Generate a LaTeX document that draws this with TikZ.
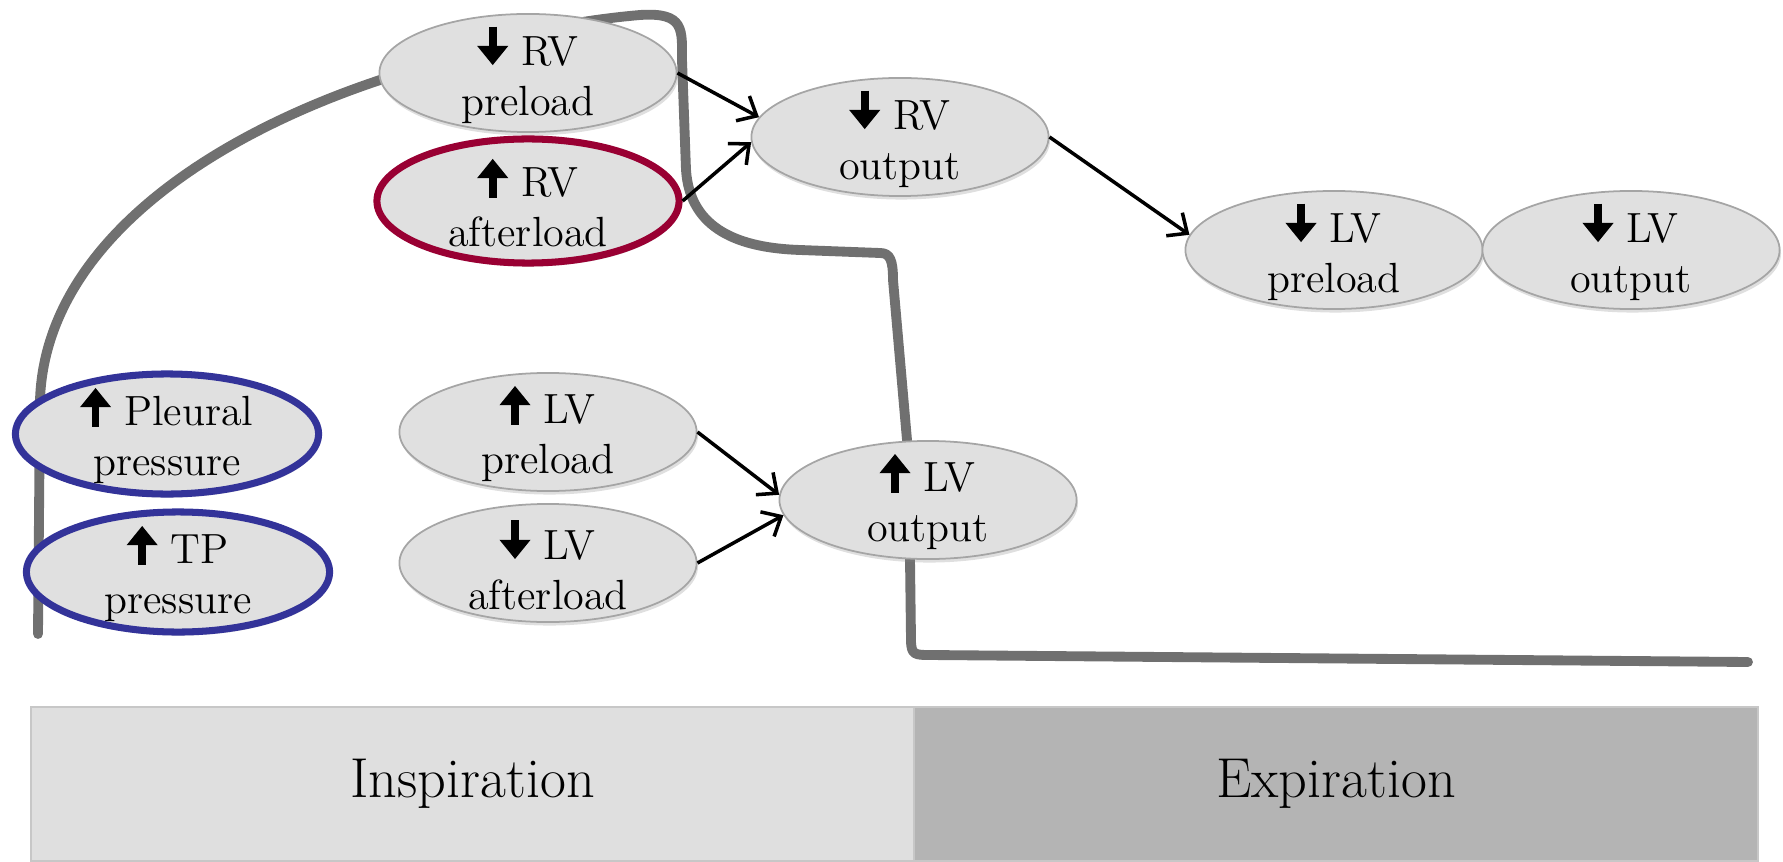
\documentclass[tikz,border=0pt]{standalone}
\usepackage{tikz}
\usetikzlibrary{arrows.meta,shapes.geometric,shadows}
\definecolor{bubblefill}{RGB}{224,224,224}
\definecolor{bubbleline}{RGB}{165,165,165}
\definecolor{ringred}{RGB}{153,0,51}
\definecolor{ringblue}{RGB}{51,51,153}
\definecolor{tracegray}{RGB}{112,112,112}
\definecolor{inspfill}{RGB}{223,223,223}
\definecolor{expfill}{RGB}{180,180,180}
\newsavebox{\upbox}
\newsavebox{\dnbox}
% thick block arrows set once, then reused in the bubbles
\AtBeginDocument{%
  \sbox{\upbox}{\pgfpicture\pgfsetbaseline{0pt}%
    \pgfsetlinewidth{2.2pt}\pgfsetarrowsend{Triangle[length=5.5pt,width=8.5pt]}%
    \pgfpathmoveto{\pgfpoint{0pt}{-0.3pt}}\pgfpathlineto{\pgfpoint{0pt}{10.8pt}}%
    \pgfusepath{stroke}\endpgfpicture}%
  \sbox{\dnbox}{\pgfpicture\pgfsetbaseline{0pt}%
    \pgfsetlinewidth{2.2pt}\pgfsetarrowsend{Triangle[length=5.5pt,width=8.5pt]}%
    \pgfpathmoveto{\pgfpoint{0pt}{11pt}}\pgfpathlineto{\pgfpoint{0pt}{0pt}}%
    \pgfusepath{stroke}\endpgfpicture}}
\newcommand{\uparr}{\usebox{\upbox}}
\newcommand{\dnarr}{\usebox{\dnbox}}

\begin{document}
\begin{tikzpicture}[x=0.01cm,y=-0.01cm,
  bubble/.style={ellipse,draw=bubbleline,line width=0.5pt,fill=bubblefill,
    minimum width=2.97cm,minimum height=1.18cm,inner sep=-4pt,align=center,
    font=\fontsize{12}{14.2}\selectfont,
    drop shadow={shadow xshift=0.4pt,shadow yshift=-1pt,opacity=0.25}},
  redring/.style={bubble,draw=ringred,line width=2pt,minimum height=1.24cm,minimum width=3.02cm},
  bluering/.style={bubble,draw=ringblue,line width=2pt,minimum height=1.2cm,minimum width=3.03cm},
  trace/.style={draw=tracegray,line width=2.8pt,line cap=round,line join=round},
  conn/.style={-{Straight Barb[length=4.5pt,width=8pt]},line width=1pt},
  phase/.style={rectangle,draw=black!22,line width=0.5pt,minimum height=1.54cm,
    inner sep=0pt,font=\fontsize{16}{19}\selectfont}]

  \useasboundingbox (0,0) rectangle (1783,861);

  % breathing trace, under the bubbles
  \draw[trace] (38,634) -- (40,400) .. controls (45,250) and (200,140) .. (380,80)
    .. controls (480,40) and (560,22) .. (640,15)
    .. controls (685,12) and (682,30) .. (682,60) -- (686,170)
    .. controls (690,230) and (740,248) .. (800,250) -- (880,253)
    .. controls (890,253) and (893,260) .. (893,280) -- (907,440) -- (910,560) -- (911,640)
    .. controls (911,655) and (915,655) .. (930,655) -- (1748,662);

  \draw (528,73) node[bubble] (rvpre) {\dnarr\ RV\\preload};
  \draw (528,201) node[redring] (rvafter) {\uparr\ RV\\afterload};
  \draw (900,137) node[bubble] (rvout) {\dnarr\ RV\\output};
  \draw (1334,250) node[bubble] (lvpreb) {\dnarr\ LV\\preload};
  \draw (1631,250) node[bubble] (lvoutb) {\dnarr\ LV\\output};

  \draw (167,434) node[bluering] (pleural) {\uparr\ Pleural\\pressure};
  \draw (178,572) node[bluering] (tp) {\uparr\ TP\\pressure};
  \draw (548,432) node[bubble] (lvpre) {\uparr\ LV\\preload};
  \draw (548,563) node[bubble] (lvafter) {\dnarr\ LV\\afterload};
  \draw (928,500) node[bubble] (lvout) {\uparr\ LV\\output};

  \path[conn] (rvpre.east) edge (rvout.172);
  \path[conn] (rvafter.east) edge (rvout.182);
  \path[conn] (rvout.east) edge (lvpreb.174);
  \path[conn] (lvpre.east) edge (lvout.178);
  \path[conn] (lvafter.east) edge (lvout.186);

  % phases
  \draw (472.5,784) node[phase,fill=inspfill,minimum width=8.83cm] (insp) {Inspiration};
  \draw (1336,784) node[phase,fill=expfill,minimum width=8.44cm] (expi) {Expiration};
\end{tikzpicture}
\end{document}
